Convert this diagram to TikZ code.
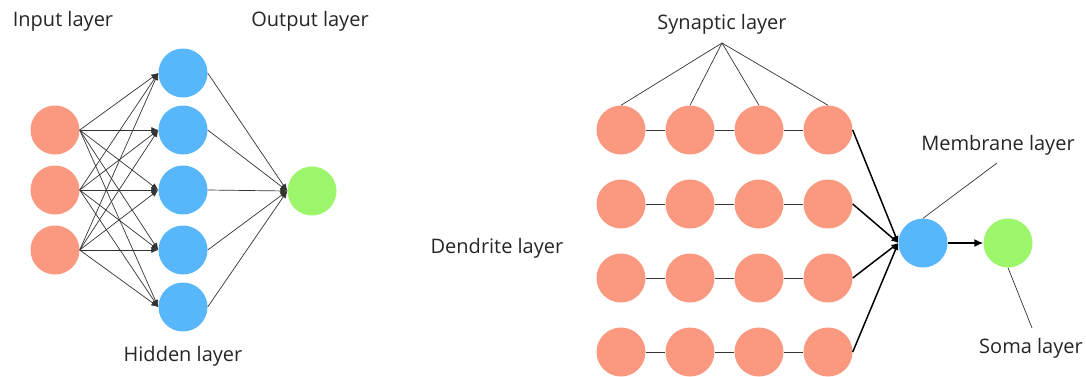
\documentclass[tikz,border=0pt]{standalone}
\usepackage{fontspec}
\setmainfont{Open Sans}
\usepackage{tikz}
\usetikzlibrary{arrows.meta,positioning,calc}

\definecolor{dendcol}{RGB}{250,153,127}
\definecolor{membcol}{RGB}{88,182,250}
\definecolor{somacol}{RGB}{157,245,108}

\begin{document}
\begin{tikzpicture}[x=1pt,y=-1pt,
  >={Latex[length=7pt,width=6pt]},
  unit/.style={circle,inner sep=0pt,minimum size=49pt},
  inunit/.style={unit,fill=dendcol},
  hidunit/.style={unit,fill=membcol},
  outunit/.style={unit,fill=somacol},
  lbl/.style={font=\fontsize{20}{23}\selectfont,text=black!85},
  wire/.style={black!80,line width=0.7pt},
  bigwire/.style={black,line width=1.5pt}]

\useasboundingbox (0,0) rectangle (1086,376);

%% Left: plain network
\foreach \i/\y in {1/130,2/190,3/250}
  \node[inunit] (I\i) at (55,\y) {};
\foreach \i/\y in {1/73,2/130,3/190,4/250,5/307}
  \node[hidunit] (H\i) at (183,\y) {};
\node[outunit] (O) at (312,191) {};

\foreach \i in {1,2,3}
  \foreach \j in {1,...,5}
    \draw[wire,->] (I\i.east) -- (H\j.west);
\foreach \j in {1,...,5}
  \draw[wire,->] (H\j.east) -- (O.west);

\node[lbl] (inlbl) at (63,21) {Input layer};
\node[lbl] (outlbl) at (310,21) {Output layer};
\node[lbl] (hidlbl) at (183,356) {Hidden layer};

%% Right: dendritic neuron
\foreach \r/\y in {1/130,2/204,3/278,4/352}
  \foreach \c/\x in {1/621,2/690,3/759,4/828}
    \node[inunit] (D\r\c) at (\x,\y) {};

\foreach \r in {1,...,4}
  \foreach \c/\n in {1/2,2/3,3/4}
    \draw[wire] (D\r\c) -- (D\r\n);

\node[hidunit] (M) at (923,243) {};
\node[outunit] (S) at (1008,243) {};

\foreach \r in {1,...,4}
  \draw[bigwire,->] (D\r4.east) -- (M.west);
\draw[bigwire,-{Latex[length=9pt,width=8pt]}] (M) -- (S);

%% labels and pointer lines
\node[lbl] (synlbl) at (722,24) {Synaptic layer};
\coordinate (synpt) at (722,43);
\foreach \c in {1,...,4}
  \draw[wire] (synpt) -- (D1\c.north);

\node[lbl] (dendlbl) at (497,248) {Dendrite layer};

\node[lbl] (memlbl) at (998,145) {Membrane layer};
\coordinate (mempt) at (997,163);
\draw[wire] (mempt) -- (M.north);

\node[lbl] (somalbl) at (1031,348) {Soma layer};
\coordinate (somapt) at (1032,328);
\draw[wire] (S.south) -- (somapt);

\end{tikzpicture}
\end{document}
